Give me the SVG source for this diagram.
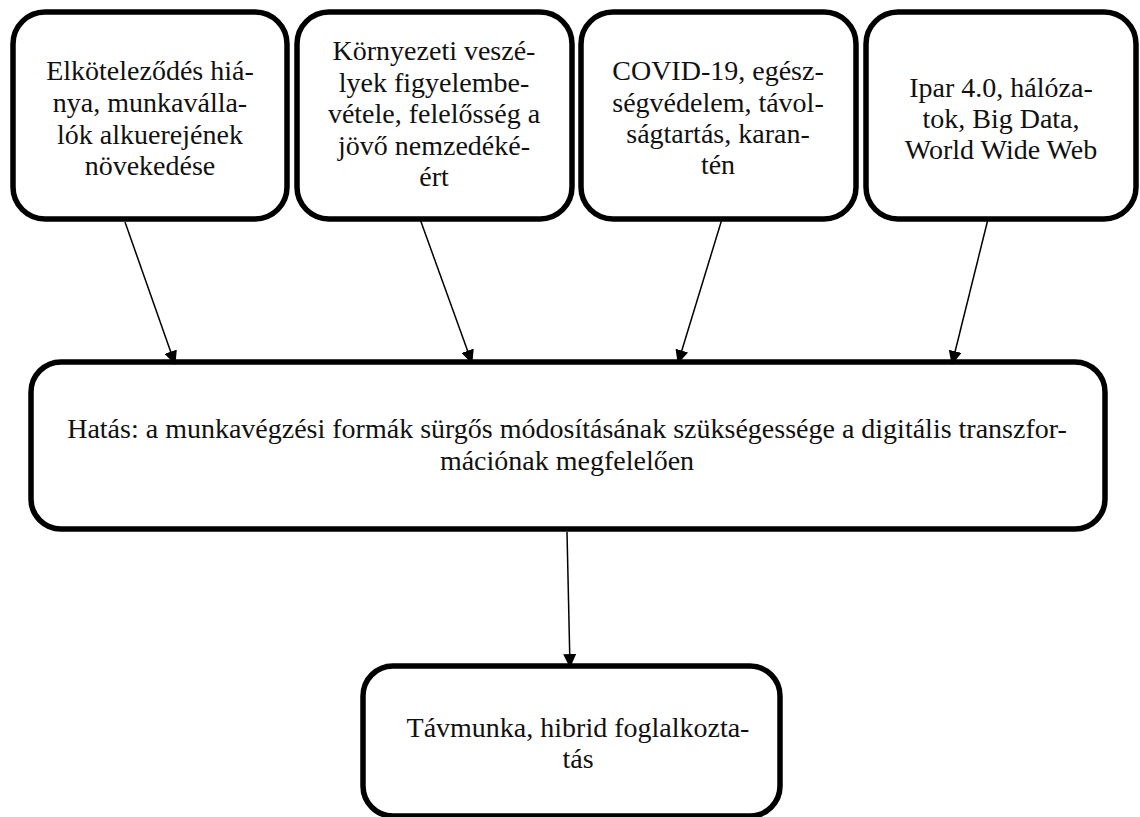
<svg xmlns="http://www.w3.org/2000/svg" width="1140" height="817" viewBox="0 0 1140 817">
<style>
.box{fill:#fff;stroke:#000;stroke-width:5.5}
.t{font-size:28px;fill:#111;text-anchor:middle}
.c{stroke:#000;stroke-width:1.5;fill:none;marker-end:url(#ah)}
</style>
<defs>
<marker id="ah" viewBox="0 0 14 13" refX="13" refY="6.5" markerWidth="14" markerHeight="13" markerUnits="userSpaceOnUse" orient="auto">
<path d="M0,0 L14,6.5 L0,13 z" fill="#000"/>
</marker>
</defs>
<g font-family="'Liberation Serif', 'Times New Roman', Times, serif">
<g id="n1">
<rect class="box" x="13" y="12" width="274" height="207" rx="32"/>
<text class="t" x="150" y="80">Elköteleződés hiá-</text>
<text class="t" x="150" y="112">nya, munkav&#225;lla-</text>
<text class="t" x="150" y="144">lók alkuerejének</text>
<text class="t" x="150" y="175">növekedése</text>
</g>
<g id="n2">
<rect class="box" x="297" y="12" width="275" height="207" rx="32"/>
<text class="t" x="434" y="60">Környezeti veszé-</text>
<text class="t" x="434" y="92">lyek figyelembe-</text>
<text class="t" x="434" y="123">vétele, felelősség a</text>
<text class="t" x="434" y="155">jövő nemzedéké-</text>
<text class="t" x="434" y="186">ért</text>
</g>
<g id="n3">
<rect class="box" x="581" y="12" width="275" height="207" rx="32"/>
<text class="t" x="718" y="80">COVID-19, egész-</text>
<text class="t" x="718" y="112">ségvédelem, távol-</text>
<text class="t" x="718" y="143">ságtartás, karan-</text>
<text class="t" x="718" y="174">tén</text>
</g>
<g id="n4">
<rect class="box" x="866" y="12" width="270" height="207" rx="32"/>
<text class="t" x="1001" y="97">Ipar 4.0, hálóza-</text>
<text class="t" x="1001" y="128">tok, Big Data,</text>
<text class="t" x="1001" y="159">World Wide Web</text>
</g>
<g id="n5">
<rect class="box" x="31" y="362" width="1074" height="167" rx="30"/>
<text class="t" x="567" y="438">Hatás: a munkavégzési formák sürgős módosításának szükségessége a digitális transzfor-</text>
<text class="t" x="567" y="470">mációnak megfelelően</text>
</g>
<g id="n6">
<rect class="box" x="363" y="666" width="417" height="150" rx="30"/>
<text class="t" x="578" y="737">Távmunka, hibrid foglalkozta-</text>
<text class="t" x="578" y="768">tás</text>
</g>
</g>
<g id="connectors">
<line class="c" x1="125" y1="222" x2="175" y2="364"/>
<line class="c" x1="420" y1="219" x2="472" y2="363"/>
<line class="c" x1="722" y1="219" x2="678" y2="363"/>
<line class="c" x1="988" y1="219" x2="952" y2="364"/>
<line class="c" x1="567" y1="532" x2="570" y2="667"/>
</g>
</svg>
